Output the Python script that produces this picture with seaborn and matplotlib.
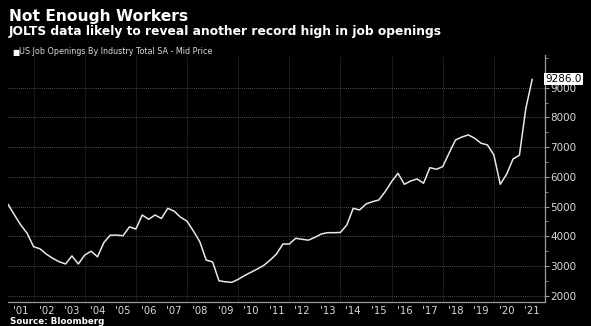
import matplotlib
matplotlib.use("Agg")
import matplotlib.pyplot as plt
import matplotlib.transforms as mtransforms
from matplotlib.ticker import FixedLocator, MultipleLocator, NullFormatter, FixedFormatter
import pandas as pd
import seaborn as sns

# Quarterly US job openings, thousands (JOLTS, seasonally adjusted)
quarters = pd.period_range("2001Q1", "2021Q3", freq="Q")
openings = [
    5080, 4720, 4380, 4100,   # 2001
    3650, 3580, 3400, 3260,   # 2002
    3145, 3070, 3340, 3070,   # 2003
    3370, 3500, 3310, 3790,   # 2004
    4040, 4040, 4020, 4320,   # 2005
    4245, 4717, 4572, 4717,   # 2006
    4600, 4943, 4845, 4640,   # 2007
    4510, 4180, 3818, 3200,   # 2008
    3140, 2505, 2470, 2451,   # 2009
    2552, 2680, 2790, 2900,   # 2010
    3020, 3200, 3404, 3740,   # 2011
    3740, 3933, 3900, 3870,   # 2012
    3966, 4077, 4122, 4122,   # 2013
    4130, 4380, 4943, 4886,   # 2014
    5087, 5165, 5222, 5502,   # 2015
    5838, 6121, 5750, 5862,   # 2016
    5929, 5785, 6310, 6256,   # 2017
    6343, 6800, 7242, 7340,   # 2018
    7411, 7300, 7131, 7074,   # 2019
    6737, 5750, 6090, 6600,   # 2020
    6730, 8300, 9286,         # 2021
]
last_value = 9286.0

years = list(range(2001, 2022))
year_labels = ["'%02d" % (y % 100) for y in years]
y_ticks = [2000, 3000, 4000, 5000, 6000, 7000, 8000, 9000]

df = pd.DataFrame({
    "t": [q.year + (q.quarter - 1) / 4 for q in quarters],
    "openings": openings,
})

sns.set_theme(style="dark")
plt.rcParams["font.family"] = ["DejaVu Sans"]

bg = "black"
fg = "#d9d9d9"
fig = plt.figure(figsize=(5.91, 3.26), dpi=100, facecolor=bg)
ax = fig.add_axes([8 / 591, 1 - 302 / 326, (545 - 8) / 591, (302 - 55) / 326])
ax.set_facecolor(bg)

sns.lineplot(data=df, x="t", y="openings", ax=ax, color="#e8e8e8",
             linewidth=1.1, legend=False)

ax.set_xlim(2001, 2022)
ax.set_ylim(1790, 10100)

# horizontal dotted gridlines at each thousand
for v in y_ticks:
    ax.axhline(v, color="#6a6a6a", linestyle=(0, (1, 1.5)), linewidth=0.6, zorder=0)
# vertical dotted gridlines on even years
for y in range(2002, 2022, 2):
    ax.axvline(y, color="#4a4a4a", linestyle=(0, (1, 1.5)), linewidth=0.6, zorder=0)

# x axis: year separators as long ticks, labels centred mid-year
ax.xaxis.set_major_locator(FixedLocator([y for y in range(2001, 2023)]))
ax.xaxis.set_major_formatter(NullFormatter())
ax.xaxis.set_minor_locator(FixedLocator([y + 0.5 for y in years]))
ax.xaxis.set_minor_formatter(FixedFormatter(year_labels))
ax.tick_params(axis="x", which="major", length=14, width=0.6, color="#5a5a5a", direction="out")
ax.tick_params(axis="x", which="minor", length=0, labelsize=7.2, labelcolor=fg, pad=3)

# y axis on the right
ax.yaxis.tick_right()
ax.yaxis.set_major_locator(FixedLocator(y_ticks))
ax.yaxis.set_minor_locator(MultipleLocator(500))
ax.tick_params(axis="y", which="major", length=3, width=0.8, color="#9a9a9a",
               labelsize=7.5, labelcolor=fg, pad=1)
ax.tick_params(axis="y", which="minor", length=2, width=0.6, color="#9a9a9a")
ax.set_xlabel("")
ax.set_ylabel("")
ax.grid(False)

for side in ["top", "left"]:
    ax.spines[side].set_visible(False)
for side in ["right", "bottom"]:
    ax.spines[side].set_visible(True)
    ax.spines[side].set_color("#9a9a9a")
    ax.spines[side].set_linewidth(0.9)

# last value tag
trans = mtransforms.blended_transform_factory(ax.transAxes, ax.transData)
ax.text(1.0, last_value, "%.1f" % last_value, transform=trans, ha="left", va="center",
        fontsize=7.5, color="black", clip_on=False,
        bbox=dict(boxstyle="square,pad=0.12", facecolor="white", edgecolor="none"))

# titles, legend and source
fig.text(9 / 591, 1 - 16 / 326, "Not Enough Workers", color="white",
         fontsize=11.2, fontweight="bold", va="center", ha="left")
fig.text(9 / 591, 1 - 32 / 326, "JOLTS data likely to reveal another record high in job openings",
         color="white", fontsize=8.8, fontweight="bold", va="center", ha="left")
fig.text(12 / 591, 1 - 52 / 326, "\u25a0", color="white", fontsize=5.5, va="center", ha="left")
fig.text(19 / 591, 1 - 52 / 326, "US Job Openings By Industry Total SA - Mid Price",
         color=fg, fontsize=5.8, va="center", ha="left")
fig.text(10 / 591, 1 - 321 / 326, "Source: Bloomberg", color="white",
         fontsize=6.3, fontweight="bold", va="center", ha="left")

fig.savefig("out.png", dpi=100, facecolor=bg)
